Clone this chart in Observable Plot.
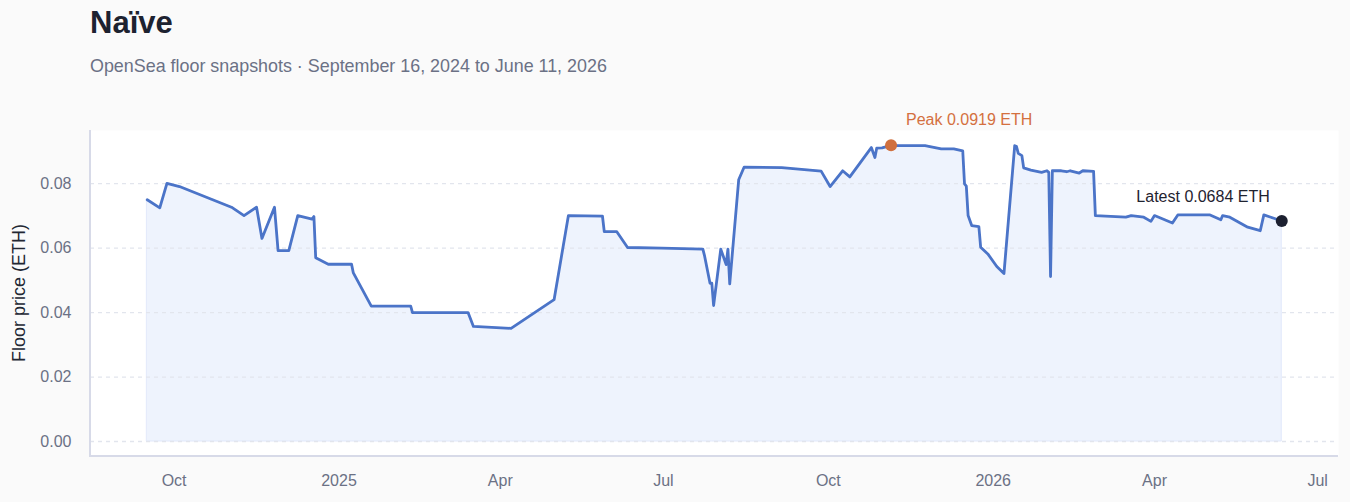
<!DOCTYPE html>
<html><head><meta charset="utf-8">
<script src="https://cdn.jsdelivr.net/npm/d3@7"></script>
<script src="https://cdn.jsdelivr.net/npm/@observablehq/plot@0.6"></script>
<style>
html,body{margin:0;padding:0;background:#fafafa;}
body{width:1350px;height:502px;overflow:hidden;font-family:"Liberation Sans",Arial,sans-serif;position:relative;}
#title{position:absolute;left:90px;top:6px;font-size:31px;font-weight:700;color:#1d2230;line-height:34px;white-space:nowrap;}
#subtitle{position:absolute;left:90px;top:55px;font-size:17.9px;color:#6b7185;line-height:22px;white-space:nowrap;}
#chart{position:absolute;left:0;top:90px;}
</style></head><body>
<div id="title">Naïve</div>
<div id="subtitle">OpenSea floor snapshots · September 16, 2024 to June 11, 2026</div>
<div id="chart"></div>
<script>
const dates = [
  "2024-09-16","2024-09-23","2024-09-27","2024-10-04","2024-11-02","2024-11-09","2024-11-16","2024-11-19",
  "2024-11-26","2024-11-28","2024-12-04","2024-12-09","2024-12-17","2024-12-18","2024-12-19","2024-12-26",
  "2025-01-08","2025-01-09","2025-01-19","2025-02-10","2025-02-11","2025-03-14","2025-03-17","2025-04-07",
  "2025-05-01","2025-05-09","2025-05-28","2025-05-29","2025-06-05","2025-06-11","2025-06-30","2025-07-23",
  "2025-07-24","2025-07-27","2025-07-28","2025-07-29","2025-08-02","2025-08-05","2025-08-06","2025-08-07",
  "2025-08-12","2025-08-15","2025-09-05","2025-09-27","2025-10-02","2025-10-09","2025-10-13","2025-10-25",
  "2025-10-27","2025-10-28","2025-10-31","2025-11-05","2025-11-09","2025-11-24","2025-11-26","2025-12-03",
  "2025-12-10","2025-12-15","2025-12-16","2025-12-17","2025-12-18","2025-12-20","2025-12-24","2025-12-25",
  "2025-12-29","2026-01-03","2026-01-07","2026-01-13","2026-01-14","2026-01-15","2026-01-17","2026-01-18",
  "2026-01-22","2026-01-28","2026-01-31","2026-02-01","2026-02-02","2026-02-03","2026-02-08","2026-02-11",
  "2026-02-13","2026-02-18","2026-02-20","2026-02-26","2026-02-27","2026-03-16","2026-03-19","2026-03-26",
  "2026-03-30","2026-04-01","2026-04-11","2026-04-14","2026-05-02","2026-05-08","2026-05-09","2026-05-13",
  "2026-05-23","2026-05-30","2026-06-01","2026-06-07","2026-06-11"
];
const prices = [
  0.0750,0.0725,0.0801,0.0791,0.0727,0.0701,0.0727,0.0630,
  0.0727,0.0592,0.0592,0.0701,0.0690,0.0698,0.0570,0.0550,
  0.0550,0.0523,0.0420,0.0420,0.0400,0.0400,0.0357,0.0351,
  0.0440,0.0701,0.0699,0.0651,0.0651,0.0602,0.0600,0.0597,
  0.0575,0.0491,0.0491,0.0422,0.0597,0.0549,0.0597,0.0489,
  0.0812,0.0851,0.0850,0.0839,0.0791,0.0840,0.0821,0.0912,
  0.0881,0.0910,0.0911,0.0919,0.0918,0.0918,0.0916,0.0908,
  0.0908,0.0902,0.0799,0.0792,0.0701,0.0670,0.0667,0.0603,
  0.0582,0.0543,0.0521,0.0918,0.0915,0.0894,0.0887,0.0849,
  0.0842,0.0835,0.0840,0.0835,0.0512,0.0840,0.0840,0.0837,
  0.0840,0.0833,0.0840,0.0838,0.0701,0.0696,0.0701,0.0696,
  0.0683,0.0701,0.0678,0.0703,0.0703,0.0688,0.0701,0.0696,
  0.0665,0.0654,0.0703,0.0692,0.0684
];
const yTicks = [0, 0.02, 0.04, 0.06, 0.08];
const yLabel = "Floor price (ETH)";

const data = dates.map((d, i) => ({date: new Date(d + "T00:00:00Z"), price: prices[i]}));
const first = data[0].date, last = data[data.length - 1].date;
const span = last - first;
const xDomain = [new Date(+first - span * 0.05), new Date(+last + span * 0.05)];
const peak = data[d3.maxIndex(prices)];
const latest = data[data.length - 1];

const W = 1350, H = 412, mL = 90, mR = 12, mT = 40, mB = 46;

const plot = Plot.plot({
  width: W, height: H,
  marginLeft: mL, marginRight: mR, marginTop: mT, marginBottom: mB,
  style: {fontFamily: "'Liberation Sans', Arial, sans-serif", fontSize: "16px", color: "#6b7185", background: "transparent", overflow: "visible"},
  x: {type: "utc", domain: xDomain},
  y: {domain: [0, d3.max(prices) * 1.05], insetBottom: 15},
  marks: [
    Plot.frame({fill: "#ffffff", stroke: null}),
    Plot.areaY(data, {x: "date", y: "price", fill: "#eef3fd", stroke: "#e1e8fb", strokeWidth: 1}),
    Plot.gridY(yTicks, {stroke: "#e2e5ed", strokeOpacity: 1, strokeDasharray: "4,4", strokeWidth: 1.3}),
    Plot.lineY(data, {x: "date", y: "price", stroke: "#4b74c8", strokeWidth: 2.8, strokeLinejoin: "round"}),
    Plot.axisY(yTicks, {tickSize: 0, tickPadding: 19, tickFormat: d => d.toFixed(2), label: null, fontSize: 16}),
    Plot.axisX({ticks: d3.utcMonth.every(3), tickSize: 0, tickPadding: 18, label: null, fontSize: 16,
      tickFormat: d => d.getUTCMonth() === 0 ? String(d.getUTCFullYear()) : d3.utcFormat("%b")(d)}),
    Plot.dot([peak], {x: "date", y: "price", r: 6, fill: "#d0703f"}),
    Plot.text([peak], {x: "date", y: "price", text: d => `Peak ${d.price.toFixed(4)} ETH`, dx: 15, dy: -25, textAnchor: "start", fill: "#d4703f", fontSize: 16}),
    Plot.dot([latest], {x: "date", y: "price", r: 6, fill: "#1c2030"}),
    Plot.text([latest], {x: "date", y: "price", text: d => `Latest ${d.price.toFixed(4)} ETH`, dx: -12, dy: -24, textAnchor: "end", fill: "#1f2330", fontSize: 16})
  ]
});

const svg = d3.select(plot);
svg.append("path")
  .attr("d", `M${mL},${mT}V${H - mB}H${W - mR}`)
  .attr("fill", "none").attr("stroke", "#d7dae8").attr("stroke-width", 2);
svg.append("text")
  .attr("transform", `translate(19,${(mT + H - mB) / 2}) rotate(-90)`)
  .attr("text-anchor", "middle").attr("dominant-baseline", "central")
  .attr("fill", "#222733").attr("font-size", 18).text(yLabel);

document.getElementById("chart").appendChild(plot);
</script>
</body></html>
